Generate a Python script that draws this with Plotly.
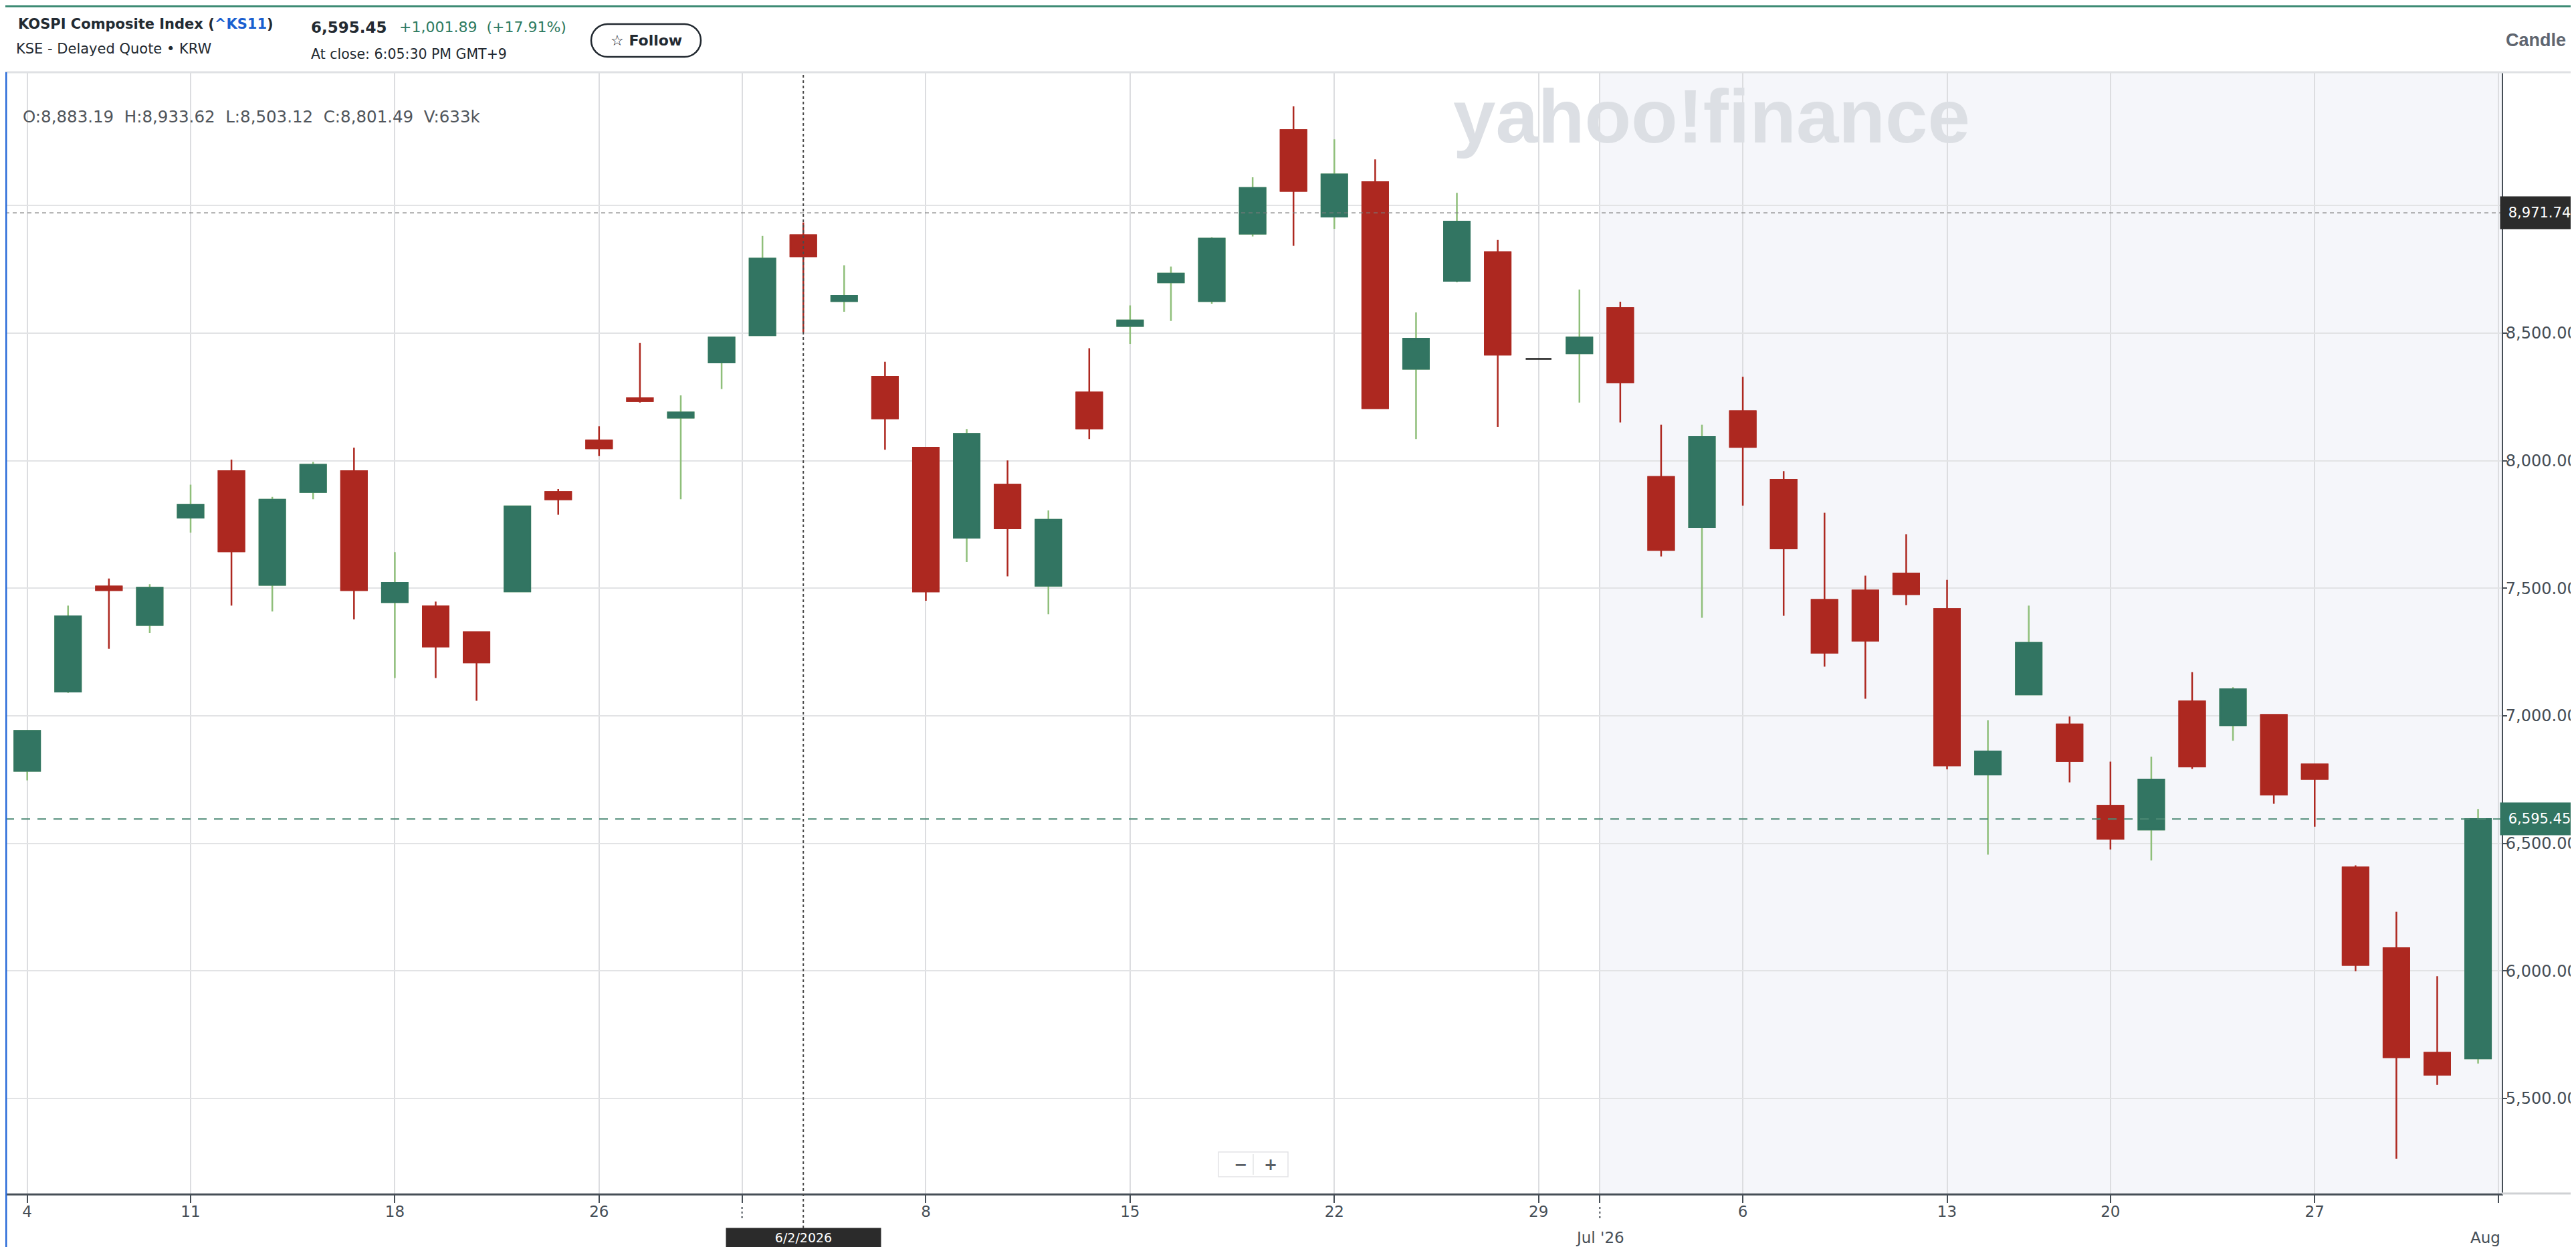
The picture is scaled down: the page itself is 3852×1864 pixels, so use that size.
import plotly.graph_objects as go
from datetime import date

# KOSPI daily candles, May - Jul 2026 (trading days only, KR holidays skipped)
dates = [
    "2026-05-04", "2026-05-06", "2026-05-07", "2026-05-08", "2026-05-11", "2026-05-12",
    "2026-05-13", "2026-05-14", "2026-05-15", "2026-05-18", "2026-05-19", "2026-05-20",
    "2026-05-21", "2026-05-22", "2026-05-26", "2026-05-27", "2026-05-28", "2026-05-29",
    "2026-06-01", "2026-06-02", "2026-06-04", "2026-06-05", "2026-06-08", "2026-06-09",
    "2026-06-10", "2026-06-11", "2026-06-12", "2026-06-15", "2026-06-16", "2026-06-17",
    "2026-06-18", "2026-06-19", "2026-06-22", "2026-06-23", "2026-06-24", "2026-06-25",
    "2026-06-26", "2026-06-29", "2026-06-30", "2026-07-01", "2026-07-02", "2026-07-03",
    "2026-07-06", "2026-07-07", "2026-07-08", "2026-07-09", "2026-07-10", "2026-07-13",
    "2026-07-14", "2026-07-15", "2026-07-16", "2026-07-20", "2026-07-21", "2026-07-22",
    "2026-07-23", "2026-07-24", "2026-07-27", "2026-07-28", "2026-07-29", "2026-07-30",
    "2026-07-31",
]
opens = [
    6784, 7095, 7507, 7356, 7777, 7959, 7513, 7877, 7959, 7446, 7429, 7328,
    7488, 7877, 8079, 8245, 8169, 8385, 8492, 8883.19, 8626, 8329, 8051, 7698,
    7906, 7510, 8267, 8528, 8699, 8626, 8890, 9296, 8957, 9092, 8360, 8705,
    8817, 8399, 8421, 8598, 7936, 7740, 8194, 7925, 7454, 7491, 7558, 7418,
    6770, 7084, 6966, 6647, 6554, 7056, 6963, 7003, 6809, 6405, 6089, 5679,
    5657,
]
highs = [
    6945, 7432, 7538, 7516, 7906, 8004, 7858, 7995, 8051, 7642, 7448, 7330,
    7821, 7889, 8135, 8461, 8256, 8483, 8881, 8933.62, 8766, 8388, 8051, 8124,
    8001, 7805, 8441, 8609, 8761, 8876, 9111, 9389, 9260, 9181, 8581, 9050,
    8865, 8399, 8671, 8623, 8141, 8141, 8329, 7959, 7796, 7549, 7712, 7533,
    6983, 7432, 6997, 6820, 6840, 7171, 7112, 7003, 6809, 6414, 6232, 5979,
    6635,
]
lows = [
    6747, 7090, 7263, 7325, 7718, 7432, 7409, 7849, 7378, 7148, 7148, 7059,
    7488, 7788, 8018, 8228, 7849, 8281, 8492, 8503.12, 8584, 8043, 7451, 7603,
    7547, 7398, 8085, 8458, 8548, 8615, 8879, 8842, 8909, 8206, 8085, 8699,
    8133, 8399, 8228, 8150, 7625, 7384, 7824, 7392, 7193, 7067, 7434, 6790,
    6456, 7084, 6739, 6476, 6433, 6792, 6902, 6655, 6565, 5999, 5264, 5553,
    5637,
]
closes = [
    6941, 7390, 7493, 7502, 7827, 7645, 7847, 7984, 7493, 7521, 7272, 7210,
    7821, 7849, 8049, 8234, 8189, 8483, 8792, 8801.49, 8646, 8166, 7488, 8105,
    7735, 7768, 8127, 8550, 8733, 8870, 9069, 9058, 9122, 8206, 8478, 8937,
    8416, 8399, 8483, 8307, 7650, 8093, 8054, 7656, 7247, 7294, 7477, 6806,
    6860, 7286, 6823, 6518, 6750, 6801, 7104, 6691, 6753, 6024, 5662, 5593.56,
    6595.45,
]

month_labels = ["Jun", "Jul '26", "Aug"]
y_ticks = [5500, 6000, 6500, 7000, 7500, 8000, 8500, 9000]

hover_date = "2026-06-02"
hover_price = 8971.74
hover_volume = "633k"
change = 1001.89
change_pct = 17.91

# page geometry (px)
W, H = 3852, 1864
PL, PR, PT, PB = 0, 3733, 100, 1776
FONT = "DejaVu Sans"

UP = "#327562"
UP_WICK = "#8fbf7a"
DOWN = "#ad2820"
FLAT = "#1c1c1c"
AXIS = "#464e56"
INK = "#232a31"


def xp(px):
    return (px - PL) / (PR - PL)


def yp(py):
    return (PB - py) / (PB - PT)


n = len(dates)
days = [date.fromisoformat(s) for s in dates]

# month boundaries sit between the last and first trading day of a month
month_edges = [i - 0.5 for i in range(1, n) if days[i].month != days[i - 1].month] + [n - 0.5]
week_ticks = [
    i for i in range(n)
    if (i == 0 or days[i].isocalendar()[1] != days[i - 1].isocalendar()[1])
    and not (i > 0 and days[i].month != days[i - 1].month)
]
tickvals = week_ticks + month_edges
ticktext = [str(days[i].day) for i in week_ticks] + ["" for m in month_edges]
x_range = [-0.535, n - 1 + 0.58]

moving = [i for i in range(n) if opens[i] != closes[i]]
flat = [i for i in range(n) if opens[i] == closes[i]]


def pick(arr, idx):
    return [arr[i] for i in idx]


fig = go.Figure()

# full candles: gives the wicks (light green on up days)
fig.add_trace(go.Candlestick(
    x=pick(dates, moving), open=pick(opens, moving), high=pick(highs, moving),
    low=pick(lows, moving), close=pick(closes, moving),
    increasing=dict(line=dict(color=UP_WICK, width=2.5), fillcolor=UP),
    decreasing=dict(line=dict(color=DOWN, width=2.5), fillcolor=DOWN),
    whiskerwidth=0, hoverinfo="skip",
))
# bodies on top
fig.add_trace(go.Candlestick(
    x=pick(dates, moving), open=pick(opens, moving),
    high=[max(opens[i], closes[i]) for i in moving],
    low=[min(opens[i], closes[i]) for i in moving],
    close=pick(closes, moving),
    increasing=dict(line=dict(color=UP, width=2.5), fillcolor=UP),
    decreasing=dict(line=dict(color=DOWN, width=2.5), fillcolor=DOWN),
    whiskerwidth=0, hoverinfo="skip",
))
# unchanged days drawn in black
fig.add_trace(go.Candlestick(
    x=pick(dates, flat), open=pick(opens, flat), high=pick(highs, flat),
    low=pick(lows, flat), close=pick(closes, flat),
    increasing=dict(line=dict(color=FLAT, width=2.5), fillcolor=FLAT),
    decreasing=dict(line=dict(color=FLAT, width=2.5), fillcolor=FLAT),
    whiskerwidth=0, hoverinfo="skip",
))

fig.update_layout(
    template="none",
    width=W, height=H,
    margin=dict(l=PL, r=W - PR, t=PT, b=H - PB, pad=0, autoexpand=False),
    paper_bgcolor="white", plot_bgcolor="white",
    showlegend=False, boxgap=0.37, boxgroupgap=0,
    font=dict(family=FONT, color=AXIS),
    xaxis=dict(
        type="category", categoryorder="array", categoryarray=dates,
        range=x_range, rangeslider=dict(visible=False),
        tickmode="array", tickvals=tickvals, ticktext=ticktext,
        showgrid=True, gridcolor="#dcdde0", gridwidth=2, zeroline=False,
        showline=True, linecolor=AXIS, linewidth=3,
        ticks="outside", ticklen=11, tickwidth=2, tickcolor=AXIS,
        tickfont=dict(size=23, color=AXIS), ticklabelstandoff=-7,
        automargin=False,
    ),
    yaxis=dict(
        side="right", range=[5127.6, 9522.6],
        tickmode="array", tickvals=y_ticks, tickformat=",.2f",
        showgrid=True, gridcolor="#e2e3e5", gridwidth=1.5, zeroline=False,
        showline=True, linecolor=AXIS, linewidth=2,
        ticks="outside", ticklen=6, tickwidth=2, tickcolor=AXIS,
        tickfont=dict(size=24, color=AXIS), ticklabelstandoff=-7,
        automargin=False,
    ),
)

# latest month shaded
fig.add_shape(type="rect", xref="x", yref="paper", x0=month_edges[-2], x1=x_range[1],
              y0=0, y1=1, fillcolor="#f5f6fa", line_width=0, layer="below")

# dotted month ticks under the axis
for m in month_edges[:-1]:
    fig.add_shape(type="line", xref="x", yref="paper", x0=m, x1=m, y0=yp(1796), y1=yp(1814),
                  line=dict(color=AXIS, width=2, dash="3px,4px"))

# crosshair
fig.add_shape(type="line", xref="x", yref="paper", x0=hover_date, x1=hover_date,
              y0=yp(1828), y1=1, line=dict(color="#4a4a4a", width=2, dash="4px,4px"))
fig.add_shape(type="line", xref="paper", yref="y", x0=0, x1=1, y0=hover_price, y1=hover_price,
              line=dict(color="#7a7a7a", width=1.2, dash="6px,5px"))
# last price line
fig.add_shape(type="line", xref="paper", yref="y", x0=0, x1=1, y0=closes[-1], y1=closes[-1],
              line=dict(color="#4d8a76", width=2, dash="13px,11px"))

# header: top accent + separator
fig.add_shape(type="line", xref="paper", yref="paper", x0=0, x1=xp(W), y0=yp(1.5), y1=yp(1.5),
              line=dict(color="#3d8b74", width=3))
fig.add_shape(type="line", xref="paper", yref="paper", x0=0, x1=xp(W), y0=yp(100), y1=yp(100),
              line=dict(color="#dfe1e4", width=3))
# grey continuation of the x axis under the price labels
fig.add_shape(type="line", xref="paper", yref="paper", x0=xp(PR), x1=xp(W), y0=yp(PB), y1=yp(PB),
              line=dict(color="#cfd1d4", width=3))

# follow pill
cx, cy = xp(958), yp(52.5)
fig.add_shape(type="path", xref="paper", yref="paper", xsizemode="pixel", ysizemode="pixel",
              xanchor=cx, yanchor=cy,
              path="M -57.5,-24.5 L 57.5,-24.5 C 71,-24.5 82,-13.5 82,0 C 82,13.5 71,24.5 57.5,24.5 "
                   "L -57.5,24.5 C -71,24.5 -82,13.5 -82,0 C -82,-13.5 -71,-24.5 -57.5,-24.5 Z",
              line=dict(color=INK, width=2.5), fillcolor="white")

# zoom buttons
fig.add_shape(type="rect", xref="paper", yref="paper", x0=xp(1814), x1=xp(1918), y0=yp(1751), y1=yp(1714),
              fillcolor="white", line=dict(color="#e3e4e6", width=1.5))
fig.add_shape(type="line", xref="paper", yref="paper", x0=xp(1866), x1=xp(1866), y0=yp(1748), y1=yp(1717),
              line=dict(color="#e3e4e6", width=1.5))

# page edge bits
fig.add_shape(type="line", xref="paper", yref="paper", x0=xp(1), x1=xp(1), y0=yp(1856), y1=yp(100),
              line=dict(color="#2a6bd8", width=3))
fig.add_shape(type="rect", xref="paper", yref="paper", x0=xp(3847), x1=xp(3860), y0=yp(782), y1=yp(724),
              fillcolor="#2a6bd8", line_width=0)
fig.add_shape(type="rect", xref="paper", yref="paper", x0=xp(267), x1=xp(351), y0=yp(1880), y1=yp(1856),
              fillcolor="#edf3fc", line_width=0)
fig.add_shape(type="rect", xref="paper", yref="paper", x0=xp(1064), x1=xp(1182), y0=yp(1880), y1=yp(1859),
              fillcolor="white", line=dict(color="#d5d6d8", width=1.5))

hi = dates.index(hover_date)
sp = "&nbsp;&nbsp;"
ohlc_text = (f"O:{opens[hi]:,.2f}{sp}H:{highs[hi]:,.2f}{sp}L:{lows[hi]:,.2f}"
             f"{sp}C:{closes[hi]:,.2f}{sp}V:{hover_volume}")
hd = days[hi]

annotations = [
    # header
    dict(x=xp(17), y=yp(28), xanchor="left", yanchor="middle",
         text="KOSPI Composite Index (<span style='color:#1a5fd0'>^KS11</span>)",
         font=dict(size=21, color=INK, weight="bold")),
    dict(x=xp(14), y=yp(65), xanchor="left", yanchor="middle",
         text="KSE - Delayed Quote \u2022 KRW", font=dict(size=21, color=INK)),
    dict(x=xp(455), y=yp(33), xanchor="left", yanchor="middle",
         text=f"{closes[-1]:,.2f}", font=dict(size=23, color=INK, weight="bold")),
    dict(x=xp(587), y=yp(33), xanchor="left", yanchor="middle",
         text=f"+{change:,.2f}{sp}(+{change_pct:.2f}%)", font=dict(size=22, color="#2d7a5f")),
    dict(x=xp(455), y=yp(73), xanchor="left", yanchor="middle",
         text="At close: 6:05:30 PM GMT+9", font=dict(size=20.5, color=INK)),
    dict(x=cx, y=cy, xanchor="center", yanchor="middle",
         text="\u2606 Follow", font=dict(size=22, color=INK, weight="bold")),
    dict(x=xp(3737), y=yp(52), xanchor="left", yanchor="middle",
         text="Candle \u02c5", font=dict(family="Liberation Sans", size=27, color="#5f6670", weight="bold")),
    # watermark
    dict(x=xp(2551), y=yp(165), xanchor="center", yanchor="middle",
         text="yahoo!finance", font=dict(family="Liberation Sans", size=114, color="#dcdfe4", weight="bold")),
    # OHLC readout
    dict(x=xp(24), y=yp(167), xanchor="left", yanchor="middle",
         text=ohlc_text, font=dict(size=24.5, color="#50555b")),
    # zoom buttons
    dict(x=xp(1847), y=yp(1733), xanchor="center", yanchor="middle",
         text="\u2212", font=dict(size=24, color="#5a5f66", weight="bold")),
    dict(x=xp(1892), y=yp(1733), xanchor="center", yanchor="middle",
         text="+", font=dict(size=24, color="#5a5f66", weight="bold")),
]
for a in annotations:
    a.update(xref="paper", yref="paper", showarrow=False)

# month names on a second row under the day numbers
for edge, label in zip(month_edges, month_labels):
    at_end = edge >= x_range[1] - 0.1
    annotations.append(dict(
        xref="x", yref="paper", x=x_range[1] if at_end else edge, y=yp(1842),
        xanchor="right" if at_end else "center", yanchor="middle",
        text=label, showarrow=False, font=dict(size=23, color=AXIS),
    ))

# price tags on the right axis
for price, bg in [(hover_price, "#2b2b2b"), (closes[-1], UP)]:
    annotations.append(dict(
        xref="paper", yref="y", x=1, y=price, xanchor="left", yanchor="middle", xshift=-3,
        text=f"{price:,.2f}", showarrow=False, bgcolor=bg, borderpad=6, width=105, height=36,
        font=dict(size=21, color="white"),
    ))
# date tag under the crosshair
annotations.append(dict(
    xref="x", yref="paper", x=hover_date, y=yp(1842), xanchor="center", yanchor="middle",
    text=f"{hd.month}/{hd.day}/{hd.year}", showarrow=False, bgcolor="#2b2b2b",
    borderpad=3, width=225, height=22, font=dict(size=19, color="white"),
))
fig.update_layout(annotations=annotations)

fig.write_html("out.html")
